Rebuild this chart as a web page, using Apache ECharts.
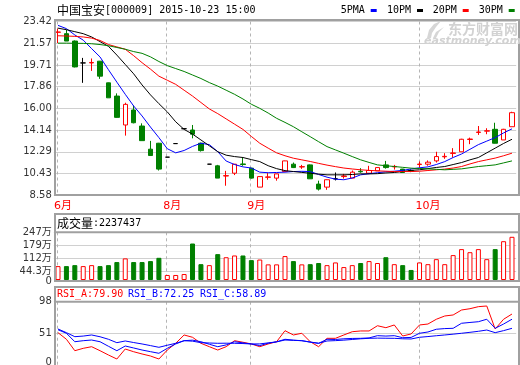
<!DOCTYPE html>
<html>
<head>
<meta charset="utf-8">
<script src="https://cdn.jsdelivr.net/npm/echarts@6/dist/echarts.min.js"></script>
<style>
  html, body { margin: 0; padding: 0; background: #fff; }
  #chart { width: 520px; height: 365px; }
</style>
</head>
<body>
<div id="chart"></div>
<script>
// ---- 中国宝安 (000009) daily K-line, June – October 2015 ----
const stockName = '中国宝安';
const stockCode = '000009';

const dates = [
  '2015-06-11','2015-06-12','2015-06-15','2015-06-16','2015-06-17','2015-06-18','2015-06-19',
  '2015-06-23','2015-06-24','2015-06-25','2015-06-26','2015-06-29','2015-06-30',
  '2015-08-18','2015-08-19','2015-08-20','2015-08-21','2015-08-24','2015-08-25','2015-08-26',
  '2015-08-27','2015-08-28','2015-08-31',
  '2015-09-01','2015-09-02','2015-09-07','2015-09-08','2015-09-09','2015-09-10','2015-09-11',
  '2015-09-14','2015-09-15','2015-09-16','2015-09-17','2015-09-18','2015-09-21','2015-09-22',
  '2015-09-23','2015-09-24','2015-09-25','2015-09-28','2015-09-29','2015-09-30',
  '2015-10-08','2015-10-09','2015-10-12','2015-10-13','2015-10-14','2015-10-15','2015-10-16',
  '2015-10-19','2015-10-20','2015-10-21','2015-10-22','2015-10-23'
];

const open = [22.50,22.38,21.75,19.88,19.88,20.03,18.18,17.05,14.58,15.86,
  14.49,12.51,13.02,11.83,12.99,14.26,14.15,13.02,11.23,11.09,
  10.22,10.46,11.25,10.89,9.27,10.11,10.04,10.60,11.23,10.99,
  11.17,9.53,9.27,9.98,10.17,10.04,10.62,10.46,10.66,11.17,
  11.00,10.81,10.68,11.20,11.23,11.51,11.86,12.15,12.29,13.34,
  13.94,14.05,14.21,13.30,14.43];
const close = [22.52,21.75,19.54,19.88,19.92,18.75,16.90,15.23,16.34,14.77,
  13.24,11.97,10.81,11.83,12.99,14.26,13.79,12.39,11.23,10.04,
  10.25,11.23,11.20,10.04,10.17,10.14,10.40,11.51,10.94,11.02,
  9.98,9.10,9.90,9.98,10.22,10.55,10.58,10.69,10.94,10.94,
  11.04,10.52,10.64,11.24,11.40,11.88,11.90,12.19,13.36,13.38,
  13.98,14.09,13.02,14.21,15.63];
const low = [21.58,21.75,19.50,18.18,19.20,18.52,16.90,15.20,13.67,14.72,
  13.24,11.95,10.69,11.83,12.99,14.26,13.44,12.31,11.23,10.04,
  9.39,10.30,11.09,10.00,9.27,9.90,9.82,10.60,10.90,10.83,
  9.98,8.98,9.04,9.84,10.00,10.04,10.50,10.46,10.66,10.85,
  10.77,10.50,10.55,10.94,11.10,11.37,11.69,11.80,12.29,12.94,
  13.73,13.79,13.00,13.30,14.43];
const high = [22.81,22.72,21.80,20.31,20.26,20.05,18.20,17.28,16.48,16.25,
  14.72,13.22,13.05,11.83,12.99,14.26,14.58,13.07,11.23,11.17,
  10.66,11.25,11.83,10.90,10.20,10.47,10.42,11.53,11.37,11.17,
  11.20,9.82,9.92,10.52,10.40,10.69,10.89,11.09,10.96,11.51,
  11.17,10.83,10.80,11.46,11.55,12.29,12.17,12.60,13.40,13.50,
  14.49,14.30,14.77,14.25,15.71];

// moving averages
const ma5 = [23.09,22.81,22.27,21.83,21.10,20.39,19.30,18.24,17.20,16.20,
  15.35,14.40,13.50,12.55,12.20,12.40,12.75,13.02,12.90,12.30,
  11.50,11.20,11.00,10.90,10.55,10.50,10.52,10.55,10.60,10.62,
  10.60,10.35,10.12,9.95,9.90,10.05,10.32,10.42,10.50,10.58,
  10.63,10.70,10.82,10.92,11.00,11.20,11.45,11.80,12.10,12.50,
  12.90,13.20,13.50,13.90,14.25];
const ma10 = [22.85,22.72,22.55,22.38,22.10,21.70,21.30,20.55,19.75,18.95,
  18.00,17.15,16.40,15.70,14.85,14.20,13.80,13.30,12.80,12.30,
  12.00,11.88,11.80,11.62,11.45,11.10,10.85,10.68,10.60,10.53,
  10.45,10.38,10.32,10.32,10.32,10.35,10.40,10.40,10.42,10.48,
  10.52,10.60,10.70,10.75,10.85,10.95,11.03,11.20,11.37,11.60,
  11.80,12.20,12.60,13.00,13.36];
const ma20 = [22.20,22.18,22.15,22.10,22.00,21.80,21.45,21.25,21.05,20.50,
  19.90,19.35,18.75,18.40,18.05,17.55,17.05,16.50,15.95,15.55,
  15.10,14.65,14.20,13.60,13.02,12.60,12.20,11.95,11.74,11.60,
  11.46,11.30,11.15,11.02,10.90,10.82,10.75,10.70,10.66,10.63,
  10.60,10.60,10.60,10.63,10.69,10.75,10.81,10.90,11.03,11.25,
  11.45,11.60,11.75,11.95,12.17];
const ma30 = [21.57,21.57,21.56,21.55,21.52,21.45,21.35,21.20,21.05,20.85,
  20.70,20.40,20.00,19.65,19.40,19.15,18.85,18.55,18.20,17.90,
  17.55,17.20,16.80,16.35,16.00,15.60,15.15,14.80,14.43,14.00,
  13.58,13.15,12.73,12.45,12.17,11.88,11.60,11.38,11.17,11.10,
  11.03,10.96,10.89,10.86,10.83,10.79,10.75,10.79,10.83,10.93,
  11.03,11.10,11.17,11.34,11.51];

// volume, in 万股
const volume = [72,72,77,72,77,72,77,93,112,93,
  93,98,115,26,26,31,189,82,77,134,
  118,127,127,103,106,81,81,124,98,81,
  82,88,77,91,67,77,88,98,88,118,
  82,77,52,91,82,108,82,129,160,144,
  160,108,160,201,223.7437];

// RSI
const rsiA = [52.5,42.8,26.0,29.5,31.9,26.0,19.7,13.8,28.5,24.5,
  21.2,18.2,13.8,27.0,36.9,49.1,45.7,36.9,31.9,27.0,
  31.9,40.7,38.4,35.9,31.9,35.9,39.2,55.4,49.1,51.6,
  39.2,31.9,44.2,44.2,49.1,53.9,55.0,55.0,62.7,59.8,
  63.8,47.6,50.6,63.8,65.2,72.2,77.0,78.5,85.8,87.7,
  90.7,91.7,57.9,72.2,79.90];
const rsiB = [56.8,51.6,39.2,40.7,41.7,39.2,32.5,26.0,32.9,30.0,
  27.0,24.6,22.2,29.5,35.9,40.7,41.5,39.2,35.5,31.9,
  34.5,39.2,37.5,35.9,33.5,37.0,39.0,42.8,41.5,40.7,
  38.5,36.9,42.8,42.5,43.5,44.0,44.2,44.8,48.1,47.5,
  48.1,45.1,45.5,51.6,53.5,57.5,58.5,58.9,66.3,67.5,
  68.6,72.2,58.9,65.2,72.25];
const rsiC = [57.9,52.5,46.6,47.5,49.1,46.5,42.8,37.8,40.3,38.0,
  35.9,33.5,31.0,34.0,36.9,40.7,40.0,37.8,37.3,36.9,
  37.0,36.9,36.5,35.9,36.0,37.5,39.0,41.7,41.2,40.7,
  38.8,36.9,40.3,40.8,41.5,42.5,43.5,44.2,44.5,44.3,
  44.2,43.5,43.2,45.7,46.8,48.0,49.1,50.3,51.6,53.0,
  54.5,56.4,52.5,55.5,58.89];

// axis tick values
const priceTicks = [8.58, 10.43, 12.29, 14.14, 16.00, 17.86, 19.71, 21.57, 23.42];
const volumeTicks = [0, 44.3, 112, 179, 247];
const rsiTicks = [0, 51, 98];

// ---- colours & fonts ----
const RED = '#ff0000', GREEN = '#008000', BLUE = '#0000ff', BLACK = '#000000';
const GRID_LINE = '#d0d0d0', FRAME = '#a0a0a0', MONTH_LINE = '#b4b4b4';
const NUM_FONT = '"DejaVu Sans", "Noto Sans CJK SC", sans-serif';
const MONO_FONT = '"DejaVu Sans Mono", "Liberation Mono", monospace';
const CJK_FONT = '"Noto Sans CJK SC", sans-serif';

const last = dates.length - 1;
const monthStarts = dates.map((d, i) => i).filter(i => i === 0 || dates[i].slice(5, 7) !== dates[i - 1].slice(5, 7));
const isMonthStart = new Set(monthStarts);

const candleData = dates.map((d, i) => {
  const item = { value: [open[i], close[i], low[i], high[i]] };
  if (open[i] === close[i]) {
    item.itemStyle = { color: BLACK, color0: BLACK, borderColor: BLACK, borderColor0: BLACK, borderColorDoji: BLACK };
  }
  return item;
});

const volumeData = volume.map((v, i) => {
  const up = close[i] >= open[i];
  return {
    value: v,
    itemStyle: up ? { color: '#ffffff', borderColor: RED, borderWidth: 1 }
                  : { color: GREEN, borderColor: GREEN, borderWidth: 1 }
  };
});

// ---- layout ----
const PLOT_L = 53.8, PLOT_W = 462.4;
const FRAME_L = 55, FRAME_R = 519;
const panels = [
  { top: 21.5, height: 173.7, range: [8.58, 23.42] },  // K-line
  { top: 232.3, height: 47.7, range: [0, 247.1] },     // volume
  { top: 301.7, height: 66.7, range: [0, 98] }         // RSI
];

function grid(p) {
  return { left: PLOT_L, width: PLOT_W, top: p.top, height: p.height, containLabel: false, outerBoundsMode: 'none' };
}

function xAxis(idx, withLabels) {
  return {
    type: 'category', gridIndex: idx, data: dates, boundaryGap: true,
    axisLine: { show: false }, axisTick: { show: false }, splitLine: { show: false },
    axisLabel: withLabels ? {
      show: true,
      interval: (i) => isMonthStart.has(i),
      formatter: (v) => '{m|' + Number(v.slice(5, 7)) + '月}',
      align: 'left',
      margin: 5,
      rich: { m: { color: RED, fontSize: 11, fontFamily: NUM_FONT, padding: [0, 0, 0, -4] } }
    } : { show: false }
  };
}

function yAxis(idx, ticks, fmt, rich) {
  return {
    type: 'value', gridIndex: idx, min: panels[idx].range[0], max: panels[idx].range[1], position: 'left',
    axisLine: { show: false },
    axisTick: { show: false, customValues: ticks },
    axisLabel: {
      customValues: ticks, formatter: fmt, margin: 2,
      showMinLabel: true, showMaxLabel: true,
      color: '#333', fontSize: 10, fontFamily: NUM_FONT, rich: rich || {}
    },
    splitLine: { show: true, lineStyle: { color: GRID_LINE, width: 1 } }
  };
}

function maLine(data, color) {
  return {
    type: 'line', xAxisIndex: 0, yAxisIndex: 0, data: data, z: 3,
    symbol: 'none', lineStyle: { color: color, width: 1 }, silent: true
  };
}

function rsiLine(data, color) {
  return {
    type: 'line', xAxisIndex: 2, yAxisIndex: 2, data: data, z: 3,
    symbol: 'none', lineStyle: { color: color, width: 1 }, silent: true
  };
}

// ---- header texts, legend, frames ----
const graphics = [];
function frameRect(x1, y1, x2, y2) {
  graphics.push({ type: 'rect', silent: true, z: 10,
    shape: { x: x1, y: y1, width: x2 - x1, height: y2 - y1 },
    style: { fill: 'none', stroke: FRAME, lineWidth: 2 } });
}
function hLine(x1, x2, y) {
  graphics.push({ type: 'line', silent: true, z: 10,
    shape: { x1: x1, y1: y, x2: x2, y2: y },
    style: { stroke: FRAME, lineWidth: 2 } });
}
function label(x, y, text, font, color, rich, align) {
  const a = align || 'left';
  const style = { text: text, font: font, fill: color,
                  align: a, verticalAlign: 'middle', textAlign: a, textVerticalAlign: 'middle' };
  if (rich) style.rich = rich;
  graphics.push({ type: 'text', silent: true, z: 11, x: x, y: y, style: style });
}

frameRect(FRAME_L, 20, FRAME_R, 195);
frameRect(FRAME_L, 214, FRAME_R, 281);
hLine(FRAME_L, FRAME_R, 232.3);
frameRect(FRAME_L, 287, FRAME_R, 372);
hLine(FRAME_L, FRAME_R, 301.7);

// title
label(57, 10, '{a|' + stockName + '}{b|[' + stockCode + '] ' + dates[last] + ' 15:00}', '12px ' + CJK_FONT, BLACK, {
  a: { font: '12px ' + CJK_FONT, fill: BLACK },
  b: { font: '10px ' + MONO_FONT, fill: BLACK }
});

// moving-average legend
const maLegend = [['5PMA', BLUE, 340.7], ['10PM', BLACK, 387], ['20PM', RED, 432.7], ['30PM', GREEN, 478.7]];
maLegend.forEach(([name, color, x]) => {
  label(x, 10, name, '10px ' + MONO_FONT, BLACK);
  graphics.push({ type: 'rect', silent: true, z: 11,
    shape: { x: x + 30, y: 9, width: 6, height: 3 }, style: { fill: color } });
});

// watermark
graphics.push({ type: 'polygon', silent: true, z: 0,
  shape: { points: [[427, 38], [429, 30], [434, 24], [441, 21], [436, 27], [432, 33], [431, 38]] },
  style: { fill: '#d6d6d6' } });
graphics.push({ type: 'polygon', silent: true, z: 0,
  shape: { points: [[433, 38], [436, 32], [444, 27], [439, 32], [436, 38]] },
  style: { fill: '#d6d6d6' } });
label(448, 29, '东方财富网', 'bold 14px ' + CJK_FONT, '#d2d2d2');
label(424, 41, 'eastmoney.com', 'italic bold 11px "DejaVu Sans", sans-serif', '#d2d2d2');

// volume header
label(57, 223, '{a|成交量}{b|:' + Math.round(volume[last] * 10000) + '}', '12px ' + CJK_FONT, BLACK, {
  a: { font: '12px ' + CJK_FONT, fill: BLACK },
  b: { font: '10px ' + MONO_FONT, fill: BLACK }
});

// RSI header
label(57, 294, 'RSI_A:' + rsiA[last].toFixed(2), '10px ' + MONO_FONT, RED);
label(128, 294, 'RSI_B:' + rsiB[last].toFixed(2), '10px ' + MONO_FONT, BLUE);
label(200, 294, 'RSI_C:' + rsiC[last].toFixed(2), '10px ' + MONO_FONT, BLUE);

const volFmt = (v) => v === 0 ? '0' : v + '万';

const option = {
  animation: false,
  backgroundColor: '#ffffff',
  grid: panels.map(grid),
  xAxis: [xAxis(0, true), xAxis(1, false), xAxis(2, false)],
  yAxis: [
    yAxis(0, priceTicks, (v) => v.toFixed(2)),
    yAxis(1, volumeTicks.slice(1), volFmt),
    yAxis(2, rsiTicks, (v) => v === 0 ? '{z|0}' : String(v),
          { z: { padding: [0, 0, 11, 0], fontSize: 10, fontFamily: NUM_FONT, color: '#333' } })
  ],
  graphic: { elements: graphics },
  series: [
    {
      type: 'candlestick', xAxisIndex: 0, yAxisIndex: 0, data: candleData, z: 2,
      barWidth: 5, silent: true,
      itemStyle: { color: '#ffffff', color0: GREEN, borderColor: RED, borderColor0: GREEN, borderColorDoji: BLACK, borderWidth: 1 }
    },
    maLine(ma5, BLUE), maLine(ma10, BLACK), maLine(ma20, RED), maLine(ma30, GREEN),
    { type: 'bar', xAxisIndex: 1, yAxisIndex: 1, data: volumeData, barWidth: 5, z: 2, silent: true },
    rsiLine(rsiA, RED), rsiLine(rsiB, BLUE), rsiLine(rsiC, BLUE)
  ]
};

const chart = echarts.init(document.getElementById('chart'), null, { renderer: 'canvas', width: 520, height: 365 });
chart.setOption(option);

// Month separators and the volume baseline label, positioned through each panel's own scales.
const extra = [];
function toPixel(gridIndex, idx, value) {
  const pt = chart.convertToPixel({ gridIndex: gridIndex }, [idx, value]);
  return Array.isArray(pt) ? pt : [NaN, NaN];
}
monthStarts.forEach((i) => {
  panels.forEach((p, g) => {
    const a = toPixel(g, i, p.range[0]);
    const b = toPixel(g, i, p.range[1]);
    if (!isFinite(a[0]) || !isFinite(a[1]) || !isFinite(b[1])) return;
    const x = Math.round(a[0]) - 0.5;
    extra.push({ type: 'line', silent: true, z: 1,
      shape: { x1: x, y1: b[1], x2: x, y2: Math.min(a[1], 365) },
      style: { stroke: MONTH_LINE, lineWidth: 1, lineDash: [3, 3] } });
  });
});
const zeroPt = toPixel(1, 0, volumeTicks[0]);
if (isFinite(zeroPt[1])) {
  extra.push({ type: 'text', silent: true, z: 11, x: PLOT_L - 2, y: zeroPt[1] + 1,
    style: { text: volFmt(volumeTicks[0]), font: '10px ' + NUM_FONT, fill: '#333',
             align: 'right', verticalAlign: 'middle', textAlign: 'right', textVerticalAlign: 'middle' } });
}

chart.setOption({ graphic: { elements: graphics.concat(extra) } });
</script>
</body>
</html>
